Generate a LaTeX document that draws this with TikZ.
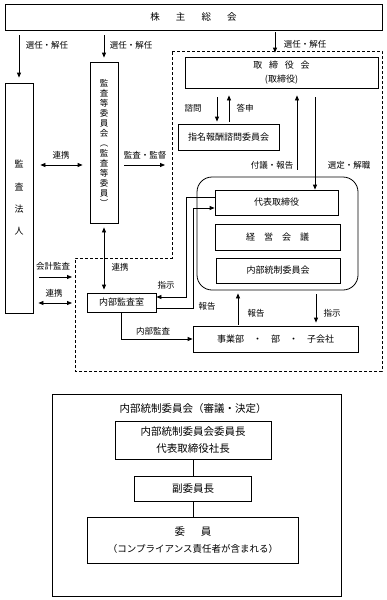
\documentclass[tikz,border=0pt]{standalone}
\usepackage{fontspec}
\setmainfont{Noto Sans CJK JP}
\usetikzlibrary{arrows.meta,calc}
\begin{document}
\begin{tikzpicture}[x=1pt,y=-1pt,
  every node/.style={inner sep=0pt, font=\fontsize{9}{11}\selectfont},
  bx/.style={draw, line width=0.8pt},
  lbl/.style={font=\fontsize{8.5}{10}\selectfont},
  arr/.style={-{Triangle[length=5pt,width=4pt]}, line width=0.8pt},
  darr/.style={{Triangle[length=5pt,width=4pt]}-{Triangle[length=5pt,width=4pt]}, line width=0.8pt},
  ln/.style={line width=0.8pt},
  dsh/.style={line width=0.9pt, dash pattern=on 3pt off 2pt}
]
\useasboundingbox (0,0) rectangle (387,600);
\fill[white] (0,0) rectangle (387,600);

% helper coordinates
\coordinate (y165) at (0,165);
\coordinate (y197) at (0,197);
\coordinate (y208) at (0,208);
\coordinate (y277) at (0,277);
\coordinate (y297) at (0,297);
\coordinate (y303) at (0,303);
\coordinate (y308) at (0,308);
\coordinate (x217) at (217,0);
\coordinate (x229) at (229,0);
\coordinate (x238) at (238,0);
\coordinate (x275) at (275,0);
\coordinate (x297) at (297,0);
\coordinate (x315) at (315,0);
\coordinate (x316) at (316,0);
\coordinate (dl) at (75,0);

% dashed region
\draw[dsh] (172,51) -- (382,51) -- (382,371) -- (75,371) -- (75,258) -- (172,258) -- cycle;

% nodes
\node[bx, minimum width=377pt, minimum height=26pt, font=\fontsize{9.5}{11}\selectfont] (kabu) at (193.5,17) {株\hspace{1.7em}主\hspace{1.7em}総\hspace{1.7em}会};
\node[bx, minimum width=28pt, minimum height=230pt, align=center, font=\fontsize{9}{22.3}\selectfont] (hojin) at (19,198) {監\\査\\法\\人};
\node[bx, minimum width=28pt, minimum height=161pt, align=center, font=\fontsize{8.5}{10}\selectfont] (kansa) at (104,142.5) {監\\査\\等\\委\\員\\会\\︵\\監\\査\\等\\委\\員\\︶};
\node[bx, minimum width=193pt, minimum height=31pt, align=center, font=\fontsize{9}{14}\selectfont] (tori) at (281.5,72.5) {取\hspace{0.75em}締\hspace{0.75em}役\hspace{0.75em}会\\(取締役)};
\node[bx, minimum width=101pt, minimum height=26pt] (shimei) at (228.5,137) {指名報酬諮問委員会};
\node[draw, line width=0.8pt, rounded corners=15pt, minimum width=161pt, minimum height=113pt] (rr) at (277.5,233.5) {};
\node[bx, minimum width=123pt, minimum height=25pt] (daihyo) at (276.5,202.5) {代表取締役};
\node[bx, minimum width=125pt, minimum height=26pt] (keiei) at (277.5,237) {経\hspace{1em}営\hspace{1em}会\hspace{1em}議};
\node[bx, minimum width=124pt, minimum height=25pt] (naitou) at (278,270.5) {内部統制委員会};
\node[bx, minimum width=69pt, minimum height=19pt] (naikan) at (121.5,302.5) {内部監査室};
\node[bx, minimum width=165pt, minimum height=26pt] (jigyo) at (275.5,339) {事業部　・　部　・　子会社};

% arrows from 株主総会
\draw[arr, shorten <=5pt, shorten >=5pt] (kabu.south -| hojin.north) -- (hojin.north);
\node[lbl] (l1) at (47,45) {選任・解任};
\draw[arr, shorten <=5pt, shorten >=4pt] (kabu.south -| kansa.north) -- (kansa.north);
\node[lbl] (l2) at (131,45) {選任・解任};
\draw[arr, shorten <=2pt, shorten >=4pt] (kabu.south -| x275) -- (tori.north -| x275);
\node[lbl] (l3) at (305,44) {選任・解任};

% 監査法人 <-> 監査等委員会
\draw[darr, shorten <=7pt, shorten >=7pt] (hojin.east |- y165) -- (kansa.west |- y165);
\node[lbl] (l4) at (61,155) {連携};
\coordinate (k2) at (165,165);
\draw[arr, shorten <=6pt] (kansa.east |- y165) -- (k2);
\node[lbl] (l5) at (145,155) {監査・監督};

% 取締役会 <-> 指名報酬諮問委員会
\draw[arr, shorten <=9pt, shorten >=2pt] (tori.south -| x217) -- (shimei.north -| x217);
\node[lbl] (l6) at (193,108) {諮問};
\draw[arr, shorten <=2pt, shorten >=7pt] (shimei.north -| x229) -- (tori.south -| x229);
\node[lbl] (l7) at (245,108) {答申};

% 取締役会 <-> 執行
\draw[arr, shorten <=7pt, shorten >=7pt] (rr.north -| x297) -- (tori.south -| x297);
\node[lbl] (l8) at (272,165) {付議・報告};
\draw[arr, shorten <=9pt] (tori.south -| x315) -- (daihyo.north -| x315);
\node[lbl] (l9) at (349,165) {選定・解職};

% 代表取締役 <-> 内部監査室
\draw[arr] (daihyo.west |- y197) -- (186,197) -- (186,297) -- (naikan.east |- y297);
\node[lbl] (l10) at (166,285) {指示};
\draw[arr] (naikan.east |- y308) -- (193,308) -- (193,208) -- (daihyo.west |- y208);
\node[lbl] (l11) at (207,306) {報告};

% 監査等委員会 <-> 内部監査室
\draw[darr, shorten <=4pt, shorten >=3pt] (kansa.south) -- (naikan.north -| kansa.south);
\node[lbl] (l12) at (120,267) {連携};

% 監査法人 -> 
\draw[arr, shorten <=6pt, shorten >=3pt] (hojin.east |- y277) -- (dl |- y277);
\node[lbl] (l13) at (53,266) {会計監査};
\draw[darr, shorten <=5pt, shorten >=3pt] (hojin.east |- y303) -- (dl |- y303);
\node[lbl] (l14) at (54,293) {連携};

% 内部監査
\draw[arr] (naikan.south) |- (jigyo.west);
\node[lbl] (l15) at (153,331) {内部監査};

% 事業部 <-> rr
\draw[arr, shorten <=1pt, shorten >=3pt] (jigyo.north -| x238) -- (rr.south -| x238);
\node[lbl] (l16) at (256,313) {報告};
\draw[arr, shorten <=4pt, shorten >=3pt] (rr.south -| x316) -- (jigyo.north -| x316);
\node[lbl] (l17) at (332,313) {指示};

% bottom panel
\node[bx, minimum width=289pt, minimum height=202pt] (outer) at (196.5,495) {};
\node[font=\fontsize{10.5}{12}\selectfont] (title) at (193,409) {内部統制委員会（審議・決定）};
\node[bx, minimum width=156pt, minimum height=38pt, align=center, font=\fontsize{10.5}{17}\selectfont] (b1) at (193,440) {内部統制委員会委員長\\代表取締役社長};
\node[bx, minimum width=117pt, minimum height=25pt, font=\fontsize{10.5}{12}\selectfont] (b2) at (193,488.5) {副委員長};
\node[bx, minimum width=211pt, minimum height=46pt, align=center, font=\fontsize{10.5}{17}\selectfont] (b3) at (193,540) {委\hspace{1.5em}員\\{\fontsize{9.5}{17}\selectfont （コンプライアンス責任者が含まれる）}};
\draw[ln] (b1.south) -- (b2.north);
\draw[ln] (b2.south) -- (b3.north);
\end{tikzpicture}
\end{document}
